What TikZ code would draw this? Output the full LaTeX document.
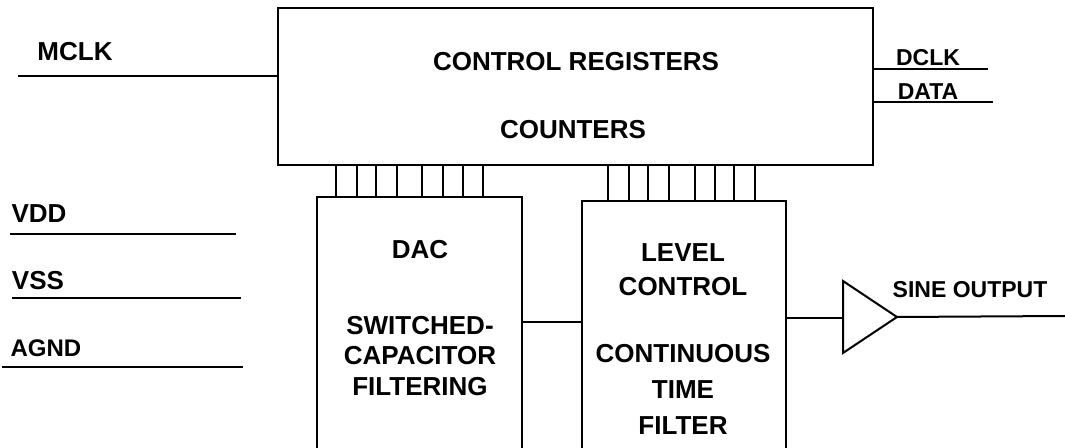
\documentclass[tikz,border=0pt]{standalone}
\usepackage{fontspec}
\setmainfont{Liberation Sans}
\usepackage{tikz}
\usetikzlibrary{calc,fit}
\tikzset{
  blk/.style={draw, inner sep=0pt},
  txt/.style={font=\bfseries\fontsize{13}{15}\selectfont, align=center},
  pin/.style={font=\bfseries\fontsize{11.5}{14}\selectfont}
}

\begin{document}
\begin{tikzpicture}[x=0.5pt, y=-0.5pt, line width=1pt]
          \useasboundingbox (0,0) rectangle (1065,448);
          \clip (0,0) rectangle (1065,448);

          \node[blk, fit={(278,8) (873,165)}] (Ctrl) {};
          \node[blk, fit={(317,197) (522,470)}] (Dac) {};
          \node[blk, fit={(582,201) (786,470)}] (Level) {};

          \node[txt] (CtrlText) at (576,62) {CONTROL REGISTERS};
          \node[txt] (CntText) at (573,130) {COUNTERS};
          \node[txt] (DacText) at (420,250) {DAC};
          \node[txt, font=\bfseries\fontsize{13}{15.3}\selectfont] (ScfText) at (420,356) {SWITCHED-\\CAPACITOR\\FILTERING};
          \node[txt, font=\bfseries\fontsize{13}{17}\selectfont] (LvlText) at (683,270) {LEVEL\\CONTROL};
          \node[txt, font=\bfseries\fontsize{13}{18}\selectfont] (CtfText) at (683,389) {CONTINUOUS\\TIME\\FILTER};

          % bus lines between the blocks
          \foreach \x in {336,357,376,397,422,443,463,483}
            \draw (\x,0 |- Ctrl.south) -- (\x,0 |- Dac.north);
          \foreach \x in {608,629,648,669,695,715,734,755}
            \draw (\x,0 |- Ctrl.south) -- (\x,0 |- Level.north);

          % inputs and outputs
          \node[txt] (Mclk) at (75,52) {MCLK};
          \coordinate (MclkEnd) at (18,76);
          \draw (MclkEnd) -- (MclkEnd -| Ctrl.west);

          \node[pin] (Dclk) at (928,58) {DCLK};
          \coordinate (DclkEnd) at (988,69);
          \draw (DclkEnd -| Ctrl.east) -- (DclkEnd);
          \node[pin] (Data) at (928,92) {DATA};
          \coordinate (DataEnd) at (993,102);
          \draw (DataEnd -| Ctrl.east) -- (DataEnd);

          \node[txt] (Vdd) at (39,214) {VDD};
          \node[txt] (Vss) at (38,281) {VSS};
          \node[txt, font=\bfseries\fontsize{12}{14}\selectfont] (Agnd) at (46,348) {AGND};
          \coordinate (VddA) at (10,234);  \coordinate (VddB) at (236,234);
          \coordinate (VssA) at (12,298);  \coordinate (VssB) at (241,298);
          \coordinate (AgndA) at (2,367);  \coordinate (AgndB) at (243,367);
          \draw (VddA) -- (VddB);
          \draw (VssA) -- (VssB);
          \draw (AgndA) -- (AgndB);

          \coordinate (Link) at (550,322);
          \draw (Link -| Dac.east) -- (Link -| Level.west);

          % output buffer
          \coordinate (AmpIn) at (843,318);
          \coordinate (AmpOut) at (897,317);
          \coordinate (SineEnd) at (1065,316);
          \draw (AmpIn -| Level.east) -- (AmpIn);
          \draw (843,281) -- (AmpOut) -- (843,353) -- cycle;
          \draw (AmpOut) -- (SineEnd);
          \node[pin] (Sine) at (970,290) {SINE OUTPUT};
        \end{tikzpicture}
\end{document}
